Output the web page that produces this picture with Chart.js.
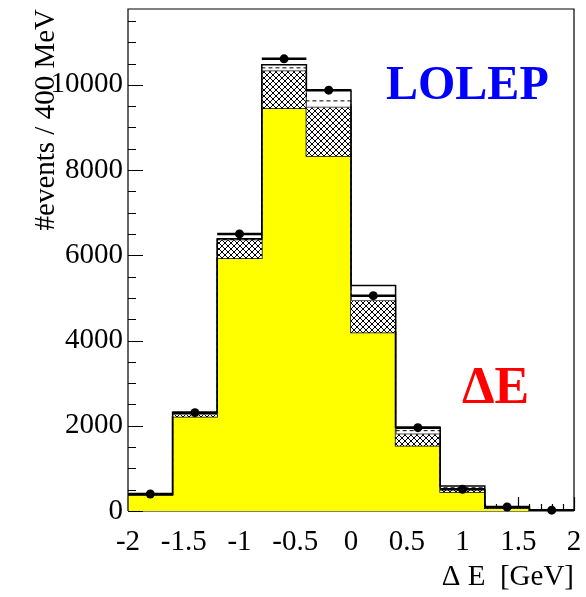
<!DOCTYPE html>
<html>
<head>
<meta charset="utf-8">
<title>Delta E - LOLEP</title>
<script src="https://cdn.jsdelivr.net/npm/chart.js@4.4.1/dist/chart.umd.min.js"></script>
<style>
    html, body { margin: 0; padding: 0; background: #fff; }
    canvas { display: block; }
</style>
</head>
<body>
<canvas id="de-chart" width="586" height="597"></canvas>
<script>
// bins of 400 MeV in Delta E [GeV]
var binEdges = [-2.0, -1.6, -1.2, -0.8, -0.4, 0.0, 0.4, 0.8, 1.2, 1.6, 2.0];
var binCenters = [-1.8, -1.4, -1.0, -0.6, -0.2, 0.2, 0.6, 1.0, 1.4, 1.8];

// stacked levels (events / 400 MeV)
var signalTop = [376, 2214, 5932, 9453, 8333, 4186, 1533, 446, 63, 0];
var hatchTop = [385, 2270, 6362, 10329, 9476, 4937, 1808, 500, 80, 0];
var dashedTop = [390, 2300, 6375, 10399, 9624, 5050, 1885, 545, 95, 3];
var totalMC = [395, 2317, 6390, 10470, 9875, 5289, 1965, 587, 101, 5];
var dataCounts = [400, 2308, 6502, 10610, 9875, 5054, 1956, 509, 94, 20];

var xTickValues = [-2, -1.5, -1, -0.5, 0, 0.5, 1, 1.5, 2];
var yTickValues = [0, 2000, 4000, 6000, 8000, 10000];

var yMax = 11780;
var serif = "'Liberation Serif', 'Times New Roman', serif";

(
    function () {
        var canvas = document.getElementById("de-chart");

        function histSteps(vals) {
            var pts = [];
            for (var i = 0; i < vals.length; i++) {
                pts.push({x: binEdges[i], y: vals[i]});
                pts.push({x: binEdges[i + 1], y: vals[i]});
            }
            return pts;
        }

        // horizontal error bars = bin width, broken by nulls
        function binBars(vals) {
            var pts = [];
            for (var i = 0; i < vals.length; i++) {
                pts.push({x: binEdges[i], y: vals[i]});
                pts.push({x: binEdges[i + 1], y: vals[i]});
                pts.push({x: binEdges[i + 1], y: null});
            }
            return pts;
        }

        function markers(vals) {
            return vals.map(function (v, i) {
                return {x: binCenters[i], y: v};
            });
        }

        function crossHatch() {
            var c = document.createElement("canvas"), s = 6;
            c.width = s;
            c.height = s;
            var g = c.getContext("2d");
            g.fillStyle = "#fff";
            g.fillRect(0, 0, s, s);
            g.strokeStyle = "#000";
            g.lineWidth = 1;
            g.beginPath();
            for (var k = -1; k <= 1; k++) {
                g.moveTo(k * s, 0);
                g.lineTo(k * s + s, s);
                g.moveTo(k * s, s);
                g.lineTo(k * s + s, 0);
            }
            g.stroke();
            return g.createPattern(c, "repeat");
        }

        function fixedTicks(values) {
            return function (scale) {
                scale.ticks = values.map(function (v) {
                    return {value: v};
                });
            };
        }

        // ROOT style frame: inward ticks under the histograms
        var frameUnder = {
            id: "frameUnder",
            beforeDatasetsDraw: function (chart) {
                var ctx = chart.ctx, a = chart.chartArea,
                    xs = chart.scales.x, ys = chart.scales.y;
                ctx.save();
                ctx.strokeStyle = "#000";
                ctx.lineWidth = 1.2;
                ctx.beginPath();
                for (var v = 0; v <= yMax; v += 500) {
                    var py = Math.round(ys.getPixelForValue(v)) + 0.5;
                    var len = v % 2000 === 0 ? 15 : 8;
                    ctx.moveTo(a.left, py);
                    ctx.lineTo(a.left + len, py);
                }
                for (var i = -20; i <= 20; i++) {
                    var px = Math.round(xs.getPixelForValue(i / 10)) + 0.5;
                    var l = i % 5 === 0 ? 14 : 7;
                    ctx.moveTo(px, a.bottom);
                    ctx.lineTo(px, a.bottom - l);
                }
                ctx.moveTo(a.left, a.bottom);
                ctx.lineTo(a.right, a.bottom);
                ctx.stroke();
                ctx.restore();
            },
            afterDatasetsDraw: function (chart) {
                var ctx = chart.ctx, a = chart.chartArea;
                ctx.save();
                ctx.strokeStyle = "#000";
                ctx.lineWidth = 1.2;
                ctx.beginPath();
                ctx.moveTo(a.left, a.bottom);
                ctx.lineTo(a.left, a.top);
                ctx.lineTo(a.right, a.top);
                ctx.lineTo(a.right, a.bottom);
                ctx.stroke();
                ctx.restore();
            },
            afterDraw: function (chart) {
                var ctx = chart.ctx, a = chart.chartArea;
                ctx.save();
                ctx.textBaseline = "alphabetic";
                ctx.textAlign = "left";
                ctx.font = "bold 48px " + serif;
                ctx.fillStyle = "#0000ff";
                ctx.fillText("LOLEP", a.left + 258, a.top + 90);
                ctx.font = "bold 52px " + serif;
                ctx.fillStyle = "#ff0000";
                ctx.fillText("\u0394E", a.left + 334, a.top + 394);
                ctx.restore();
            }
        };

        new Chart(canvas, {
            type: "line",
            data: {
                datasets: [
                    {
                        label: "signal",
                        data: histSteps(signalTop),
                        borderColor: "#000",
                        borderWidth: 1.5,
                        backgroundColor: "#ffff00",
                        fill: "origin",
                        pointRadius: 0,
                        order: 6
                    },
                    {
                        label: "background",
                        data: histSteps(hatchTop),
                        borderColor: "#555",
                        borderWidth: 1,
                        backgroundColor: crossHatch(),
                        fill: "-1",
                        pointRadius: 0,
                        order: 5
                    },
                    {
                        label: "other",
                        data: histSteps(dashedTop),
                        borderColor: "#000",
                        borderWidth: 1,
                        borderDash: [4, 3],
                        fill: false,
                        pointRadius: 0,
                        order: 4
                    },
                    {
                        label: "total MC",
                        data: histSteps(totalMC),
                        borderColor: "#000",
                        borderWidth: 1.5,
                        fill: false,
                        pointRadius: 0,
                        order: 3
                    },
                    {
                        label: "data bars",
                        data: binBars(dataCounts),
                        borderColor: "#000",
                        borderWidth: 2.5,
                        spanGaps: false,
                        fill: false,
                        pointRadius: 0,
                        order: 2
                    },
                    {
                        label: "data",
                        data: markers(dataCounts),
                        showLine: false,
                        pointRadius: 4.5,
                        pointBackgroundColor: "#000",
                        pointBorderColor: "#000",
                        pointBorderWidth: 0,
                        clip: false,
                        order: 1
                    }
                ]
            },
            options: {
                responsive: false,
                animation: false,
                devicePixelRatio: 1,
                elements: {line: {tension: 0}},
                layout: {padding: {top: 9, right: 12, left: 0, bottom: 0}},
                plugins: {
                    legend: {display: false},
                    tooltip: {enabled: false}
                },
                scales: {
                    x: {
                        type: "linear",
                        min: -2,
                        max: 2,
                        grid: {display: false, drawTicks: false},
                        border: {display: false},
                        afterBuildTicks: fixedTicks(xTickValues),
                        ticks: {
                            color: "#000",
                            padding: 14,
                            maxRotation: 0,
                            autoSkip: false,
                            font: {family: serif, size: 29},
                            callback: function (v) {
                                return String(Math.round(v * 10) / 10);
                            }
                        },
                        title: {
                            display: true,
                            text: "\u0394 E  [GeV]",
                            align: "end",
                            color: "#000",
                            font: {family: serif, size: 29},
                            padding: {top: 0, bottom: 2}
                        },
                        afterFit: function (s) {
                            s.height = 86;
                            s.paddingLeft = 0;
                            s.paddingRight = 0;
                        }
                    },
                    y: {
                        type: "linear",
                        min: 0,
                        max: yMax,
                        grid: {display: false, drawTicks: false},
                        border: {display: false},
                        afterBuildTicks: fixedTicks(yTickValues),
                        ticks: {
                            color: "#000",
                            padding: 5,
                            autoSkip: false,
                            font: {family: serif, size: 29},
                            callback: function (v) {
                                return String(v);
                            }
                        },
                        title: {
                            display: true,
                            text: "#events / 400 MeV",
                            align: "end",
                            color: "#000",
                            font: {family: serif, size: 29},
                            padding: {top: 29, bottom: 0}
                        },
                        afterFit: function (s) {
                            s.width = 128;
                            s.paddingTop = 0;
                            s.paddingBottom = 0;
                        }
                    }
                }
            },
            plugins: [frameUnder]
        });
    }
)();
</script>
</body>
</html>
